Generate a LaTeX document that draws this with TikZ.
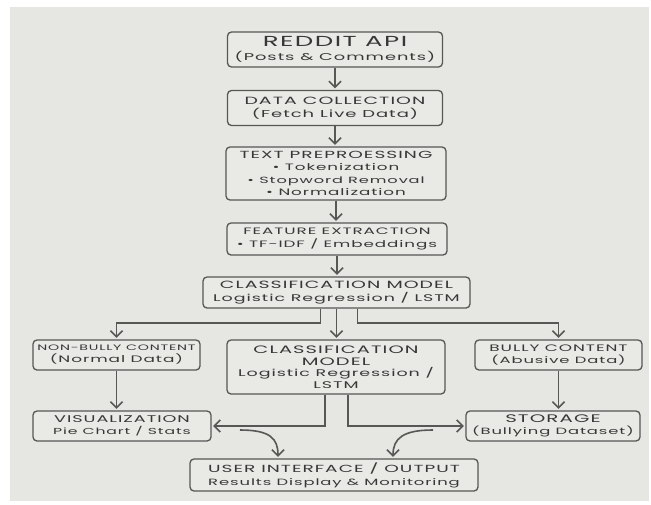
\documentclass[tikz,border=0pt]{standalone}
\usepackage{fontspec}
\setmainfont{Poppins}[FakeStretch=1.8, LetterSpace=10]
\usetikzlibrary{arrows.meta, positioning, calc}

\definecolor{paper}{HTML}{E6E6E3}
\definecolor{boxfill}{HTML}{E9E9E6}
\definecolor{boxline}{HTML}{575755}
\definecolor{ink}{HTML}{383838}

% one line of a box at its own size
\newcommand{\boxln}[2]{{\fontsize{#1}{#1}\selectfont #2}}

\tikzset{
  box/.style={draw=boxline, line width=1.3pt, rounded corners=4pt, fill=boxfill,
    text=ink, align=center, inner sep=1pt, font=\fontsize{10}{13}\selectfont},
  flow/.style={->, draw=boxline, line width=1.6pt, shorten >=1.5pt}
}

\begin{document}
\begin{tikzpicture}[x=1pt, y=-1pt, >={Straight Barb[length=6pt, width=12pt]}]
    % Page and sheet
    \fill[white] (0,0) rectangle (651,504);
    \fill[paper] (10,7) rectangle (649,501);
    \useasboundingbox (0,0) rectangle (651,504);

    % Main column
    \node[box, minimum width=215pt, minimum height=35pt, font=\fontsize{10}{13.5}\selectfont] (api) at (335,49.5)
      {\boxln{14.5}{REDDIT API}\\\boxln{9.9}{(Posts \& Comments)}};
    \node[box, minimum width=215pt, minimum height=35pt] (collect) at (335,108)
      {\boxln{10.5}{DATA COLLECTION}\\\boxln{10}{(Fetch Live Data)}};
    \node[box, minimum width=220pt, minimum height=53pt, font=\fontsize{10}{12.3}\selectfont] (prep) at (336,173.5)
      {\boxln{10.3}{TEXT PREPROESSING}\\\boxln{9.3}{• Tokenization}\\\boxln{9}{• Stopword Removal}\\\boxln{9.3}{• Normalization}};
    \node[box, minimum width=220pt, minimum height=32pt, font=\fontsize{10}{12.5}\selectfont] (feat) at (337,239)
      {\boxln{9.3}{FEATURE EXTRACTION}\\\boxln{9.3}{• TF-IDF / Embeddings}};
    \node[box, minimum width=267pt, minimum height=31pt, font=\fontsize{10}{12.2}\selectfont] (clsA) at (336.5,292.5)
      {\boxln{10.5}{CLASSIFICATION MODEL}\\\boxln{9.7}{Logistic Regression / LSTM}};

    % Branches
    \node[box, minimum width=167pt, minimum height=30pt, font=\fontsize{10}{12}\selectfont] (nonbully) at (116.5,355)
      {\boxln{7.9}{NON-BULLY CONTENT}\\\boxln{9.4}{(Normal Data)}};
    \node[box, minimum width=218pt, minimum height=54pt, font=\fontsize{10}{11.5}\selectfont] (clsB) at (336,367)
      {\boxln{10.8}{CLASSIFICATION}\\\boxln{10.8}{MODEL}\\\boxln{9.7}{Logistic Regression /}\\\boxln{9.7}{LSTM}};
    \node[box, minimum width=167pt, minimum height=30pt, font=\fontsize{10}{12}\selectfont] (bully) at (558.5,355)
      {\boxln{9.4}{BULLY CONTENT}\\\boxln{9.1}{(Abusive Data)}};

    % Outputs
    \node[box, minimum width=178pt, minimum height=30pt, font=\fontsize{10}{12}\selectfont] (vis) at (122,426)
      {\boxln{9.8}{VISUALIZATION}\\\boxln{8.7}{Pie Chart / Stats}};
    \node[box, minimum width=174pt, minimum height=30pt, font=\fontsize{10}{12}\selectfont] (store) at (553,426)
      {\boxln{11}{STORAGE}\\\boxln{9.1}{(Bullying Dataset)}};
    \node[box, minimum width=288pt, minimum height=32pt, font=\fontsize{10}{13}\selectfont] (ui) at (334,475)
      {\boxln{10.3}{USER INTERFACE / OUTPUT}\\\boxln{9.1}{Results Display \& Monitoring}};

    % Helper coordinates
    \coordinate (split) at (0,323);
    \coordinate (visTap) at (240,430);
    \coordinate (storeTap) at (433,430);
    \coordinate (uiL) at (278,0);
    \coordinate (uiR) at (393,0);

    % Main flow
    \foreach \a/\b in {api/collect, collect/prep, prep/feat, feat/clsA, clsA/clsB} {
      \draw[flow] (\a.south) -- (\a.south |- \b.north);
    }

    % Split to the two classes
    \draw[flow] ([xshift=-16pt]clsA.south) -- ([xshift=-16pt]clsA.south |- split) -| (nonbully.north);
    \draw[flow] ([xshift=21pt]clsA.south) -- ([xshift=21pt]clsA.south |- split) -| (bully.north);
    \draw[flow] (nonbully.south) -- (nonbully.south |- vis.north);
    \draw[flow] (bully.south) -- (bully.south |- store.north);

    % Model to outputs
    \draw[flow] ([xshift=-11pt]clsB.south) |- (vis.east);
    \draw[flow] ([xshift=12pt]clsB.south) |- (store.west);
    \draw[flow] (visTap) .. controls +(30,0) and +(0,-20) .. (uiL |- ui.north);
    \draw[flow] (storeTap) .. controls +(-30,0) and +(0,-20) .. (uiR |- ui.north);

  \end{tikzpicture}
\end{document}
